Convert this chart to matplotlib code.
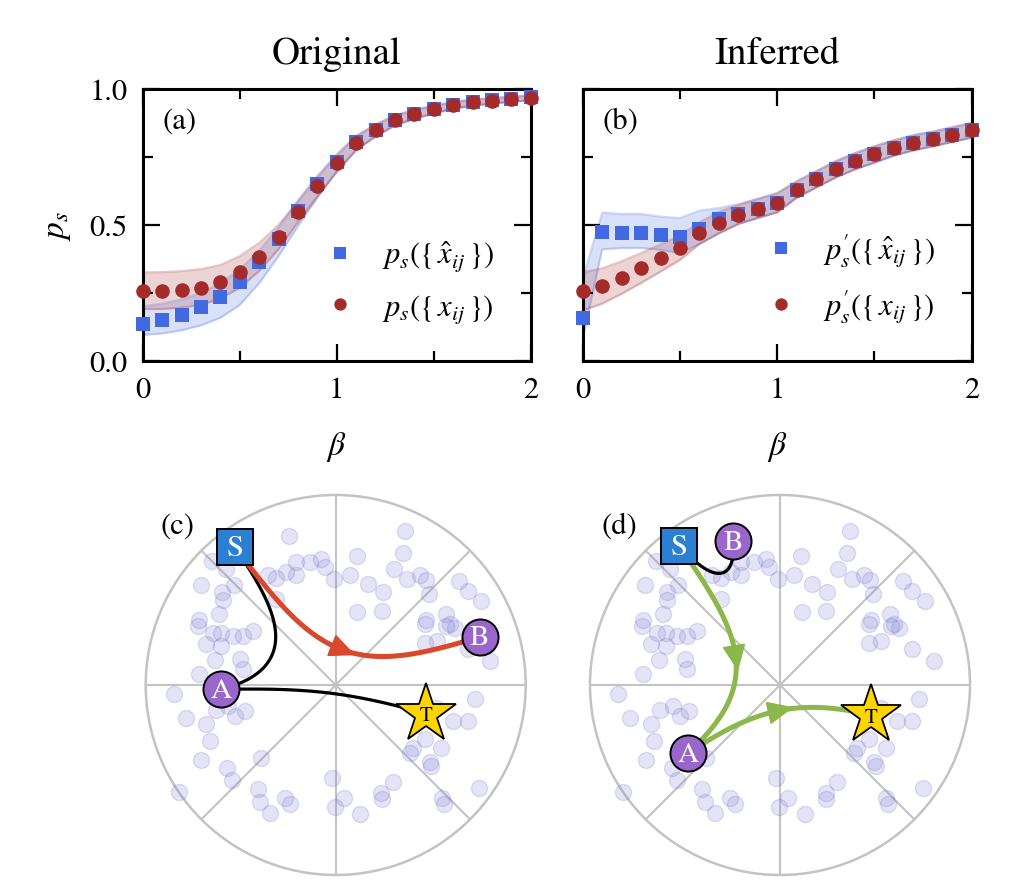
import numpy as np
import matplotlib
matplotlib.use("Agg")
import matplotlib.pyplot as plt
from matplotlib.patches import Polygon, Circle
from matplotlib.ticker import FixedLocator

plt.rcParams['font.family'] = ['STIXGeneral', 'DejaVu Serif']
plt.rcParams['mathtext.fontset'] = 'stix'

# ---------------- data: top panels ----------------
beta = [0.0, 0.1, 0.2, 0.3, 0.4, 0.5, 0.6, 0.7, 0.8, 0.9, 1.0,
        1.1, 1.2, 1.3, 1.4, 1.5, 1.6, 1.7, 1.8, 1.9, 2.0]

# (a) Original
ps_hat_a = [0.135, 0.150, 0.169, 0.196, 0.233, 0.290, 0.364, 0.449, 0.551, 0.649, 0.732,
            0.805, 0.850, 0.886, 0.908, 0.926, 0.941, 0.952, 0.958, 0.964, 0.969]
ps_a = [0.255, 0.255, 0.261, 0.269, 0.290, 0.327, 0.382, 0.457, 0.548, 0.642, 0.727,
        0.802, 0.848, 0.885, 0.907, 0.925, 0.940, 0.951, 0.957, 0.963, 0.968]
hat_a_hi = [0.200, 0.210, 0.225, 0.250, 0.285, 0.335, 0.405, 0.490, 0.590, 0.680, 0.760,
            0.828, 0.870, 0.903, 0.923, 0.939, 0.952, 0.962, 0.967, 0.972, 0.977]
hat_a_lo = [0.095, 0.100, 0.112, 0.130, 0.158, 0.205, 0.285, 0.385, 0.495, 0.600, 0.695,
            0.775, 0.825, 0.866, 0.890, 0.910, 0.927, 0.939, 0.946, 0.953, 0.958]
x_a_hi = [0.325, 0.326, 0.330, 0.337, 0.352, 0.385, 0.433, 0.500, 0.585, 0.675, 0.755,
          0.825, 0.868, 0.902, 0.922, 0.938, 0.951, 0.961, 0.966, 0.971, 0.976]
x_a_lo = [0.190, 0.190, 0.195, 0.205, 0.228, 0.268, 0.330, 0.410, 0.510, 0.605, 0.695,
          0.775, 0.825, 0.866, 0.890, 0.910, 0.927, 0.939, 0.946, 0.953, 0.958]

# (b) Inferred
ps_hat_b = [0.156, 0.474, 0.469, 0.469, 0.461, 0.457, 0.486, 0.520, 0.540, 0.560, 0.580,
            0.630, 0.667, 0.704, 0.734, 0.759, 0.783, 0.802, 0.816, 0.832, 0.848]
ps_b = [0.255, 0.275, 0.306, 0.341, 0.378, 0.416, 0.469, 0.508, 0.538, 0.560, 0.581,
        0.630, 0.667, 0.704, 0.734, 0.759, 0.783, 0.802, 0.816, 0.832, 0.848]
hat_b_hi = [0.300, 0.545, 0.540, 0.540, 0.530, 0.525, 0.552, 0.562, 0.576, 0.596, 0.617,
            0.660, 0.697, 0.734, 0.764, 0.789, 0.811, 0.830, 0.843, 0.859, 0.875]
hat_b_lo = [0.080, 0.410, 0.415, 0.415, 0.408, 0.395, 0.430, 0.470, 0.503, 0.525, 0.546,
            0.600, 0.637, 0.674, 0.704, 0.729, 0.755, 0.774, 0.789, 0.805, 0.821]
x_b_hi = [0.325, 0.340, 0.366, 0.396, 0.428, 0.461, 0.509, 0.548, 0.573, 0.595, 0.616,
          0.660, 0.697, 0.734, 0.764, 0.789, 0.811, 0.830, 0.843, 0.859, 0.875]
x_b_lo = [0.185, 0.210, 0.246, 0.286, 0.328, 0.371, 0.429, 0.468, 0.503, 0.525, 0.546,
          0.600, 0.637, 0.674, 0.704, 0.729, 0.755, 0.774, 0.789, 0.805, 0.821]

titles = ["Original", "Inferred"]
panel_tags = ["(a)", "(b)", "(c)", "(d)"]
xtick_labels = ["0", "1", "2"]
ytick_labels = ["0.0", "0.5", "1.0"]
legend_a = [r"$p_s(\{\,\hat{x}_{ij}\,\})$", r"$p_s(\{\,x_{ij}\,\})$"]
legend_b = [r"$p^{\prime}_{s}(\{\,\hat{x}_{ij}\,\})$", r"$p^{\prime}_{s}(\{\,x_{ij}\,\})$"]

# ---------------- data: bottom panels (disk coordinates) ----------------
bg_x = [-0.246, 0.366, 0.112, 0.354, -0.207, -0.137, -0.076, -0.058, -0.207, -0.260,
        -0.313, -0.356, -0.011, 0.074, 0.170, 0.249, 0.305, 0.377, 0.442, 0.474,
        0.491, 0.649, 0.696, 0.763, 0.114, 0.242, 0.579, 0.477, -0.651, -0.579,
        -0.711, -0.537, -0.597, -0.593, -0.616, -0.719, -0.313, 0.600, -0.725, -0.646,
        -0.602, -0.541, -0.488, -0.435, -0.681, -0.602, -0.637, -0.502, -0.488, -0.719,
        -0.853, -0.632, -0.528, -0.479, -0.789, -0.681, -0.663, 0.468, 0.582, 0.626,
        0.468, 0.696, 0.811, 0.732, 0.529, 0.617, 0.696, 0.468, 0.407, 0.556,
        0.389, -0.707, -0.571, -0.544, -0.392, -0.825, -0.409, -0.397, -0.344, -0.265,
        -0.239, -0.019, -0.005, 0.042, 0.129, 0.240, 0.244, 0.302, 0.495, 0.503,
        0.559, 0.570, 0.754, 0.532, -0.565]
bg_y = [0.783, 0.811, 0.679, 0.695, 0.647, 0.647, 0.665, 0.621, 0.577, 0.595,
        0.563, 0.577, 0.556, 0.577, 0.533, 0.489, 0.609, 0.556, 0.577, 0.551,
        0.481, 0.546, 0.493, 0.442, 0.384, 0.389, 0.375, 0.341, 0.651, 0.609,
        0.528, 0.528, 0.489, 0.446, 0.375, 0.341, 0.454, 0.323, 0.311, 0.275,
        0.275, 0.258, 0.258, 0.284, 0.214, 0.205, 0.130, 0.135, 0.083, 0.056,
        -0.046, -0.133, -0.163, -0.137, -0.172, -0.207, -0.295, 0.319, 0.311, 0.302,
        0.223, 0.188, 0.126, -0.075, -0.119, -0.189, -0.189, -0.286, -0.330, -0.330,
        -0.356, -0.395, -0.438, -0.500, -0.386, -0.565, -0.549, -0.617, -0.672, -0.596,
        -0.628, -0.491, -0.641, -0.596, -0.679, -0.570, -0.600, -0.512, -0.404, -0.426,
        -0.596, -0.626, -0.544, 0.233, -0.109]

# node positions per panel
nodes_c = {"S": (-0.531, 0.726), "A": (-0.602, -0.023), "B": (0.758, 0.253), "T": (0.473, -0.150)}
nodes_d = {"S": (-0.530, 0.733), "B": (-0.246, 0.756), "A": (-0.483, -0.358), "T": (0.480, -0.157)}
# edges: (from, to, kind)  kind: 'plain' black, 'path' coloured with arrow
edges_c = [("S", "A", "plain"), ("A", "T", "plain"), ("S", "B", "path")]
edges_d = [("S", "B", "plain"), ("S", "A", "path"), ("A", "T", "path")]
path_colors = {"c": "#d9482a", "d": "#8cb84b"}

R_H = 3.6  # hyperbolic radius of the native disk


def geodesic(p, q, n=400):
    def hyp(v):
        r = R_H * np.hypot(v[0], v[1])
        th = np.arctan2(v[1], v[0])
        return np.array([np.cosh(r), np.sinh(r) * np.cos(th), np.sinh(r) * np.sin(th)])
    X1, X2 = hyp(p), hyp(q)
    cd = X1[0] * X2[0] - X1[1] * X2[1] - X1[2] * X2[2]
    d = np.arccosh(max(cd, 1.0 + 1e-9))
    t = np.linspace(0, 1, n)
    X = (np.sinh((1 - t) * d)[:, None] * X1 + np.sinh(t * d)[:, None] * X2) / np.sinh(d)
    r = np.arccosh(np.clip(X[:, 0], 1, None)) / R_H
    th = np.arctan2(X[:, 2], X[:, 1])
    return r * np.cos(th), r * np.sin(th)


# ---------------- figure ----------------
W, H = 1015, 887
fig = plt.figure(figsize=(W / 100, H / 100), dpi=100)

ax_a = fig.add_axes([142.7 / W, 1 - 361.7 / H, 388 / W, 271.7 / H])
ax_b = fig.add_axes([582.7 / W, 1 - 361.7 / H, 389 / W, 271.7 / H])

blue = "royalblue"
red = "brown"

for ax, hat, xs, hlo, hhi, xlo, xhi, labels, title, tag in [
        (ax_a, ps_hat_a, ps_a, hat_a_lo, hat_a_hi, x_a_lo, x_a_hi, legend_a, titles[0], panel_tags[0]),
        (ax_b, ps_hat_b, ps_b, hat_b_lo, hat_b_hi, x_b_lo, x_b_hi, legend_b, titles[1], panel_tags[1])]:
    ax.fill_between(beta, hlo, hhi, color=blue, alpha=0.2, lw=0)
    ax.plot(beta, hlo, color=blue, alpha=0.25, lw=1.6)
    ax.plot(beta, hhi, color=blue, alpha=0.25, lw=1.6)
    ax.fill_between(beta, xlo, xhi, color=red, alpha=0.2, lw=0)
    ax.plot(beta, xlo, color=red, alpha=0.25, lw=1.6)
    ax.plot(beta, xhi, color=red, alpha=0.25, lw=1.6)
    h1, = ax.plot(beta, hat, 's', color=blue, ms=9.5, mew=0, label=labels[0], zorder=4, clip_on=False)
    h2, = ax.plot(beta, xs, 'o', color=red, ms=10.5, mew=0, label=labels[1], zorder=5, clip_on=False)
    ax.set_xlim(0, 2)
    ax.set_ylim(0, 1)
    ax.xaxis.set_major_locator(FixedLocator([0, 1, 2]))
    ax.xaxis.set_minor_locator(FixedLocator([0.5, 1.5]))
    ax.yaxis.set_major_locator(FixedLocator([0, 0.5, 1.0]))
    ax.yaxis.set_minor_locator(FixedLocator([0.25, 0.75]))
    ax.set_xticklabels(xtick_labels)
    ax.tick_params(which='both', direction='in', top=True, right=True, width=1.6,
                   labelsize=22, pad=11)
    ax.tick_params(which='major', length=12)
    ax.tick_params(which='minor', length=7)
    for s in ax.spines.values():
        s.set_linewidth(2.2)
    ax.set_xlabel(r"$\beta$", fontsize=24, labelpad=18)
    ax.set_title(title, fontsize=28, pad=19)
    ax.text(0.05, 0.885, tag, transform=ax.transAxes, fontsize=22, ha='left', va='center')
    ax.legend(handles=[h1, h2], loc='lower right', bbox_to_anchor=(0.905, 0.13),
              frameon=False, fontsize=22, handlelength=0.7, handletextpad=1.0,
              labelspacing=0.62, borderpad=0, borderaxespad=0, markerscale=0.85)

ax_a.set_yticklabels(ytick_labels)
ax_a.set_ylabel(r"$p_s$", fontsize=24, labelpad=12)
ax_b.set_yticklabels([])

# ---------------- bottom panels ----------------
R_px = 190.0
centers = {"c": (335.7, 686.0), "d": (780.0, 686.0)}
axes_bottom = {}
for key in ("c", "d"):
    cx, cy = centers[key]
    left_px = cx - 1.1 * R_px
    width_px = 2.2 * R_px
    top_px = cy - 1.1 * R_px
    height_px = H - top_px
    ax = fig.add_axes([left_px / W, 0, width_px / W, height_px / H])
    ax.set_xlim(-1.1, 1.1)
    ax.set_ylim(-(H - cy) / R_px, 1.1)
    ax.axis('off')
    axes_bottom[key] = ax

grid_col = "#c3c3c3"
for key, nodes, edges, tag in [("c", nodes_c, edges_c, panel_tags[2]),
                               ("d", nodes_d, edges_d, panel_tags[3])]:
    ax = axes_bottom[key]
    ax.add_patch(Circle((0, 0), 1.0, fill=False, ec=grid_col, lw=1.8, zorder=1, clip_on=False))
    for k in range(8):
        ang = k * np.pi / 4
        ax.plot([0, np.cos(ang)], [0, np.sin(ang)], color=grid_col, lw=1.5, zorder=1, clip_on=False)
    ax.scatter(bg_x, bg_y, s=135, color="#7b7bd6", alpha=0.2, edgecolors="#6a6acc",
               linewidths=1.0, zorder=2, clip_on=False)
    for a, b, kind in edges:
        gx, gy = geodesic(nodes[a], nodes[b])
        if kind == 'plain':
            ax.plot(gx, gy, color='black', lw=2.3, zorder=3, solid_capstyle='round', clip_on=False)
        else:
            col = path_colors[key]
            ax.plot(gx, gy, color=col, lw=3.6, zorder=3, solid_capstyle='round', clip_on=False)
            m = len(gx) // 2
            u = np.array([gx[m + 4] - gx[m - 4], gy[m + 4] - gy[m - 4]])
            u /= np.hypot(*u)
            nrm = np.array([-u[1], u[0]])
            base = np.array([gx[m], gy[m]]) - 0.3 * 0.125 * u
            tip = base + 0.125 * u
            tri = [tip, base + 0.056 * nrm, base - 0.056 * nrm]
            ax.add_patch(Polygon(tri, closed=True, color=col, zorder=3.5, clip_on=False))
    for name, (x, y) in nodes.items():
        if name == "S":
            ax.plot(x, y, 's', ms=26, mfc="#2b80d3", mec='black', mew=1.4, zorder=5, clip_on=False)
            ax.text(x, y - 0.005, "S", color='white', fontsize=22, ha='center', va='center', zorder=6)
        elif name == "T":
            ax.plot(x, y, '*', ms=45, mfc="#ffd500", mec='black', mew=1.3, zorder=5, clip_on=False)
            ax.text(x, y - 0.01, "T", color='black', fontsize=15, ha='center', va='center', zorder=6)
        else:
            ax.plot(x, y, 'o', ms=26, mfc="#9966cc", mec='black', mew=1.4, zorder=5, clip_on=False)
            ax.text(x, y - 0.005, name, color='white', fontsize=21, ha='center', va='center', zorder=6)
    tx = -0.92 if key == "c" else -0.938
    ty = 0.84
    ax.text(tx, ty, tag, fontsize=22, ha='left', va='center')

fig.savefig("out.png", dpi=100)
